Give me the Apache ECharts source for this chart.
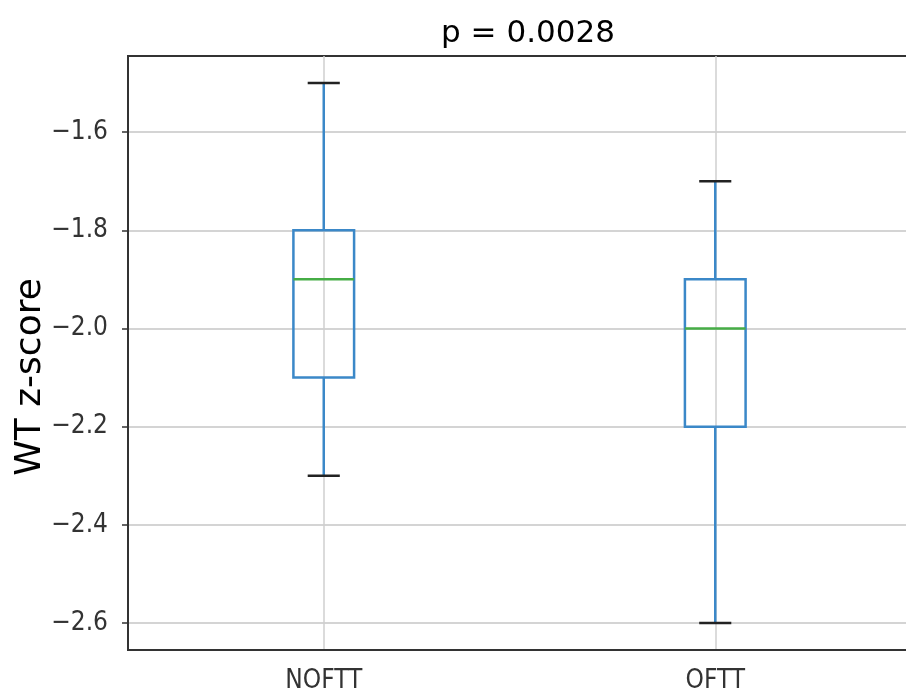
<!DOCTYPE html>
<html>
<head>
<meta charset="utf-8">
<script src="https://cdn.jsdelivr.net/npm/echarts@6/dist/echarts.min.js"></script>
<style>
  html, body { margin: 0; padding: 0; background: #fff; overflow: hidden; }
  #chart { width: 906px; height: 692px; }
</style>
</head>
<body>
<div id="chart"></div>
<script>
// box statistics
const groups = ['NOFTT', 'OFTT']
const whiskerLow = [-2.3, -2.6]
const q1 = [-2.1, -2.2]
const medians = [-1.9, -2.0]
const q3 = [-1.8, -1.9]
const whiskerHigh = [-1.5, -1.7]
const yTicks = [-2.6, -2.4, -2.2, -2.0, -1.8, -1.6]

const tickFont = "'DejaVu Sans Condensed', 'Liberation Sans Narrow', 'DejaVu Sans', sans-serif"

let boxData = groups.map((g, i) => [i, whiskerLow[i], q1[i], medians[i], q3[i], whiskerHigh[i]])

function renderBox(params, api) {
  let i = api.value(0)
  let lo = api.coord([i, api.value(1)])
  let b1 = api.coord([i, api.value(2)])
  let md = api.coord([i, api.value(3)])
  let b3 = api.coord([i, api.value(4)])
  let hi = api.coord([i, api.value(5)])
  let band = api.size([1, 0])[0]
  let bw = band * 0.155 / 2
  let cw = band * 0.041
  let x = lo[0]
  let blue = { stroke: '#3b88c8', lineWidth: 2.5, fill: null }
  let black = { stroke: '#222', lineWidth: 2.5 }
  return {
    type: 'group',
    children: [
      { type: 'line', shape: { x1: x, y1: hi[1], x2: x, y2: b3[1] }, style: blue },
      { type: 'line', shape: { x1: x, y1: b1[1], x2: x, y2: lo[1] }, style: blue },
      { type: 'rect', shape: { x: x - bw, y: b3[1], width: bw * 2, height: b1[1] - b3[1] }, style: blue },
      { type: 'line', shape: { x1: x - bw, y1: md[1], x2: x + bw, y2: md[1] }, style: { stroke: '#46ad46', lineWidth: 2.5 } },
      { type: 'line', shape: { x1: x - cw, y1: hi[1], x2: x + cw, y2: hi[1] }, style: black },
      { type: 'line', shape: { x1: x - cw, y1: lo[1], x2: x + cw, y2: lo[1] }, style: black }
    ]
  }
}

let chart = echarts.init(document.getElementById('chart'))
chart.setOption({
  animation: false,
  title: {
    text: 'p = 0.0028',
    left: 523,
    textAlign: 'center',
    top: 13,
    textStyle: { fontFamily: 'DejaVu Sans', fontSize: 31, fontWeight: 'normal', color: '#000' }
  },
  grid: {
    left: 128, top: 56, width: 783, bottom: 42,
    containLabel: false,
    outerBoundsMode: 'none',
    show: true, borderColor: '#333', borderWidth: 2
  },
  xAxis: {
    type: 'category',
    data: groups,
    boundaryGap: true,
    axisLine: { lineStyle: { color: '#333', width: 2 } },
    axisTick: { alignWithLabel: true, length: 6, lineStyle: { color: '#333', width: 1.5 } },
    axisLabel: { margin: 18, fontFamily: tickFont, fontSize: 26, color: '#333' },
    splitLine: { show: true, alignWithLabel: true, lineStyle: { color: '#cfcfcf', width: 1.5 } }
  },
  yAxis: {
    type: 'value',
    min: -2.655,
    max: -1.445,
    name: 'WT z-score',
    nameLocation: 'middle',
    nameGap: 79,
    nameMoveOverlap: false,
    nameTextStyle: { fontFamily: 'DejaVu Sans', fontSize: 36, color: '#000', padding: [0, 48, 0, 0] },
    axisLine: { show: true, lineStyle: { color: '#333', width: 2 } },
    axisTick: { show: true, length: 6, customValues: yTicks, lineStyle: { color: '#333', width: 1.5 } },
    axisLabel: {
      margin: 20, fontFamily: tickFont, fontSize: 26, color: '#333',
      customValues: yTicks,
      formatter: v => (v < 0 ? '\u2212' : '') + Math.abs(v).toFixed(1)
    },
    splitLine: { show: true, lineStyle: { color: '#d4d4d4', width: 2 } }
  },
  series: [{
    type: 'custom',
    renderItem: renderBox,
    encode: { x: 0, y: [1, 2, 3, 4, 5] },
    data: boxData,
    z: 5
  }]
})
</script>
</body>
</html>
